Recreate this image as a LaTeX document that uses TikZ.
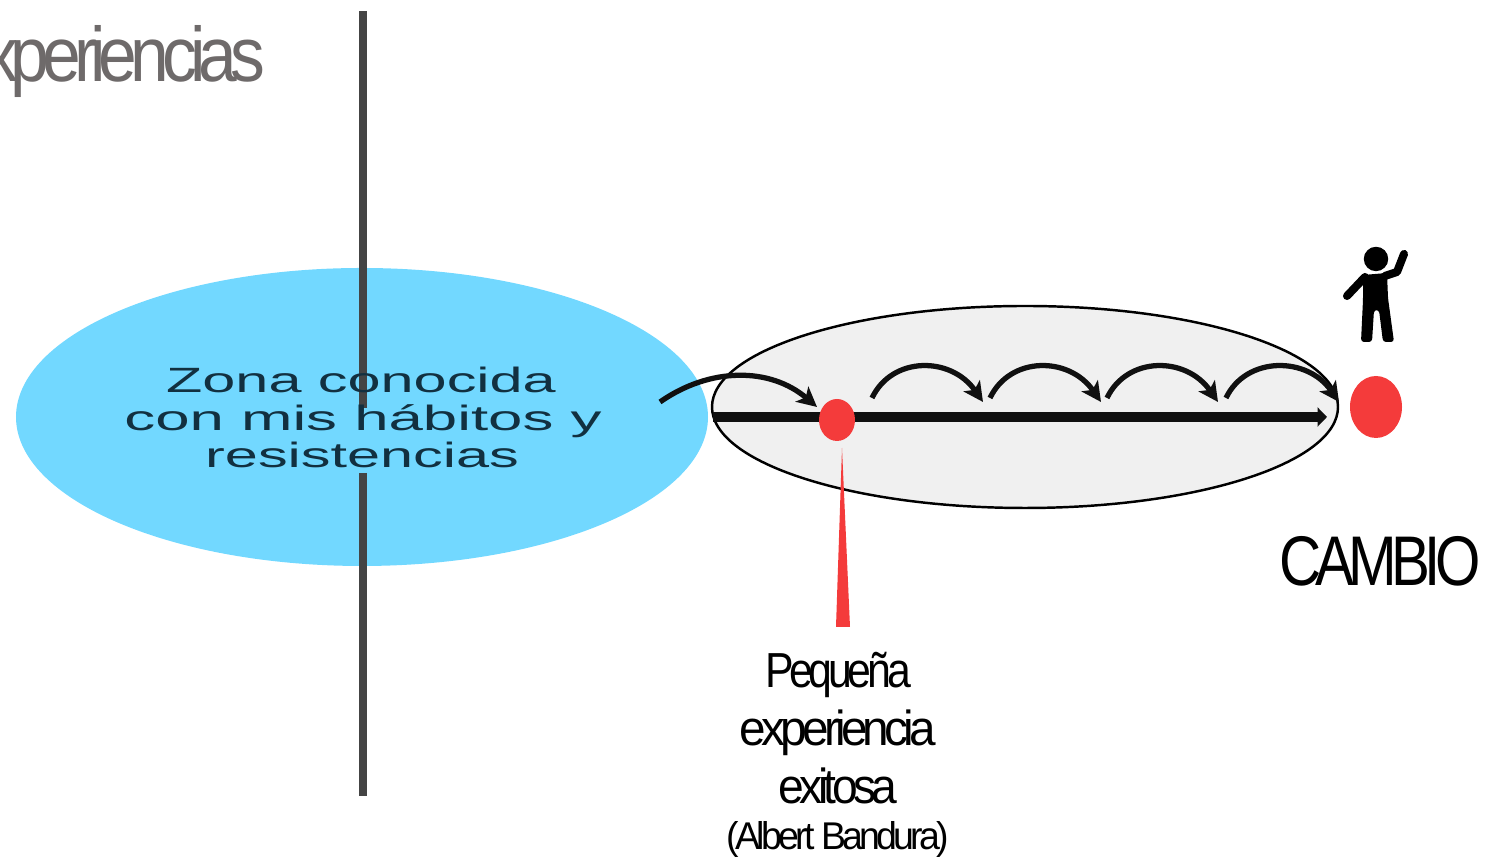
\documentclass[tikz,border=0pt]{standalone}
\usepackage{fontspec}
\usepackage{tikz}
\usetikzlibrary{arrows.meta, shapes.geometric}
\setmainfont{Liberation Sans}
\newfontfamily\tightfont[LetterSpace=-10]{Liberation Sans}
\definecolor{zonablue}{HTML}{72D8FF}
\definecolor{dotred}{HTML}{F43B3B}
\definecolor{bargray}{HTML}{444444}
\definecolor{titlegray}{HTML}{6E6A6A}
\definecolor{pathgray}{HTML}{F0F0F0}
\definecolor{inkblack}{HTML}{101010}
\definecolor{zonaink}{HTML}{123040}
\tikzset{
  hop/.style={-{Stealth[length=5.6pt,width=5.6pt,inset=1.4pt]}, line width=1.5pt, color=inkblack},
  dot/.style={ellipse, fill=dotred, inner sep=0pt},
  bar/.style={line width=2pt, color=bargray},
  zonatext/.style={anchor=base, inner sep=0pt, text=zonaink, font=\fontsize{10pt}{10pt}\selectfont, xscale=1.69},
  caption/.style={anchor=base, font=\tightfont, text=black, inner sep=0pt}
}

\begin{document}
\begin{tikzpicture}[x=1cm,y=1cm]
\clip (0,0) rectangle (14.86,8.58);
\useasboundingbox (0,0) rectangle (14.86,8.58);
%% zona
\node[ellipse, fill=zonablue, inner sep=0pt, minimum width=6.92cm, minimum height=2.98cm] (zona) at (3.62,4.41) {};
\draw[bar] (3.63,8.47)--(3.63,4.50);
\draw[bar] (3.63,3.85)--(3.63,0.62);
\node[zonatext] (zonatop) at (3.61,4.65) {Zona conocida};
\node[zonatext, xscale=1.04] (zonamid) at (3.63,4.27) {con mis hábitos y};
\node[zonatext] (zonalow) at (3.62,3.90) {resistencias};
%% camino
\node[ellipse, draw=black, line width=0.7pt, fill=pathgray, inner sep=0pt, minimum width=6.26cm, minimum height=2.02cm] (camino) at (10.25,4.51) {};
\coordinate (start) at (7.13,4.41);
\coordinate (end) at (13.27,4.41);
\draw[-{Triangle[length=2.7pt,width=5.4pt]}, line width=2.85pt, color=inkblack] (start)--(end);
\node[dot, minimum width=0.36cm, minimum height=0.42cm] (small) at (8.37,4.38) {};
\node[dot, minimum width=0.52cm, minimum height=0.62cm] (cambio) at (13.76,4.51) {};
%% hops
\coordinate (in) at (6.60,4.56);
\coordinate (inend) at (8.17,4.51);
\draw[hop] (in) .. controls (7.10,4.91) and (7.70,4.91) .. (inend);
\foreach \name/\xa/\xb in {one/8.72/9.83, two/9.90/11.01, three/11.07/12.18, four/12.26/13.39}{
  \coordinate (\name a) at (\xa,4.60);
  \coordinate (\name b) at (\xb,4.56);
  \draw[hop] (\name a) .. controls (\xa+0.20,5.02) and (\xb-0.32,5.02) .. (\name b);
}
%% wedge
\coordinate (tip) at (8.42,4.10);
\coordinate (baseL) at (8.36,2.31);
\coordinate (baseR) at (8.50,2.31);
\fill[dotred] (tip)--(baseL)--(baseR)--cycle;
%% figure
\filldraw[black] (13.76,5.99) circle (0.115);
\fill[black, rounded corners=0.03cm] (13.63,5.83)--(13.87,5.85)--(13.88,5.60)--(13.94,5.16)--(13.83,5.16)--(13.79,5.48)--(13.74,5.48)--(13.72,5.16)--(13.61,5.16)--(13.63,5.58)--cycle;
\draw[black, line width=2.3pt, line cap=round, line join=round] (14.04,6.04)--(13.97,5.86)--(13.85,5.82);
\draw[black, line width=2.3pt, line cap=round, line join=round] (13.47,5.62)--(13.65,5.81);
%% captions
\node[anchor=base east, inner sep=0pt, text=titlegray, xscale=0.9, font=\tightfont\fontsize{22pt}{22pt}\selectfont] (title) at (2.66,7.76) {experiencias};
\node[caption, xscale=0.83, font=\tightfont\fontsize{20pt}{20pt}\selectfont] (cambiolabel) at (13.80,2.72) {CAMBIO};
\node[caption, xscale=0.87, font=\tightfont\fontsize{14pt}{14pt}\selectfont] (peq) at (8.38,1.70) {Pequeña};
\node[caption, xscale=0.97, font=\tightfont\fontsize{14pt}{14pt}\selectfont] (exp) at (8.38,1.12) {experiencia};
\node[caption, xscale=0.94, font=\tightfont\fontsize{14pt}{14pt}\selectfont] (exi) at (8.38,0.54) {exitosa};
\node[caption, xscale=0.97, font=\tightfont\fontsize{11pt}{11pt}\selectfont] (albert) at (8.38,0.08) {(Albert Bandura)};
\end{tikzpicture}
\end{document}
